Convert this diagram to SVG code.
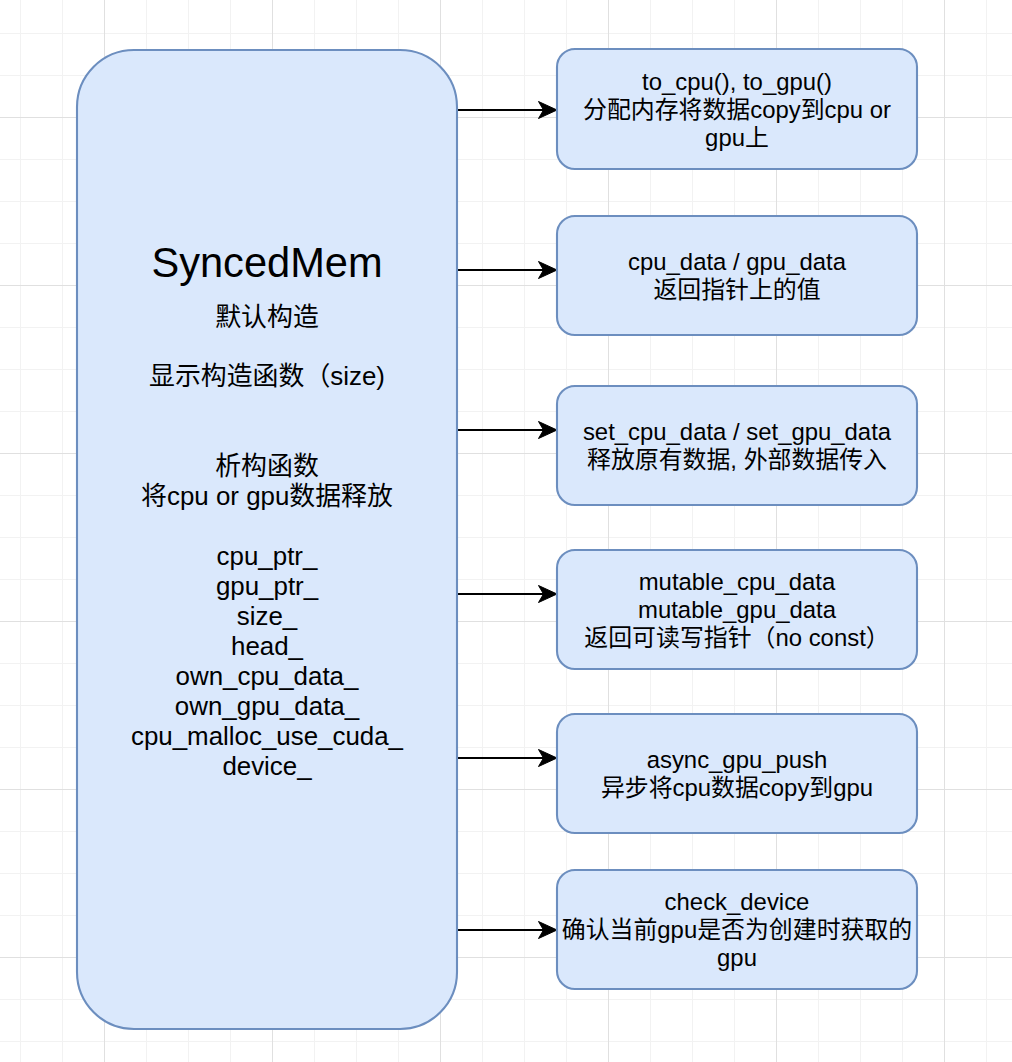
<svg xmlns="http://www.w3.org/2000/svg" width="1012" height="1062" viewBox="0 0 1012 1062">
  <style>
    .node { fill: #dae8fc; stroke: #6c8ebf; stroke-width: 2.1; }
    .t { font-family: "Liberation Sans", Arial, "Noto Sans CJK SC", sans-serif; fill: #000; text-anchor: middle; }
    .s { font-size: 23.9px; }
    .m { font-size: 25.9px; }
    .l { font-size: 41.6px; }
    .edge { stroke: #000; stroke-width: 2.1; fill: none; }
    .head { fill: #000; stroke: #000; stroke-width: 1; }
  </style>
  <defs>
    <pattern id="minor" x="20" y="33" width="42" height="42" patternUnits="userSpaceOnUse">
      <rect x="0" y="0" width="1" height="42" fill="#f2f2f2"/>
      <rect x="0" y="0" width="42" height="1" fill="#f2f2f2"/>
    </pattern>
    <pattern id="major" x="104" y="117" width="168" height="168" patternUnits="userSpaceOnUse">
      <rect x="0" y="0" width="1" height="168" fill="#e0e0e0"/>
      <rect x="0" y="0" width="168" height="1" fill="#e0e0e0"/>
    </pattern>
  </defs>
  <rect x="0" y="0" width="1012" height="1062" fill="#ffffff"/>
  <rect x="0" y="0" width="1012" height="1062" fill="url(#minor)"/>
  <rect x="0" y="0" width="1012" height="1062" fill="url(#major)"/>

  <g id="connectors">
    <g id="e1"><line class="edge" x1="457" y1="110" x2="545" y2="110"/><path class="head" d="M557,110 L538.5,101.5 L543.5,110 L538.5,118.5 Z"/></g>
    <g id="e2"><line class="edge" x1="457" y1="270" x2="545" y2="270"/><path class="head" d="M557,270 L538.5,261.5 L543.5,270 L538.5,278.5 Z"/></g>
    <g id="e3"><line class="edge" x1="457" y1="430" x2="545" y2="430"/><path class="head" d="M557,430 L538.5,421.5 L543.5,430 L538.5,438.5 Z"/></g>
    <g id="e4"><line class="edge" x1="457" y1="594" x2="545" y2="594"/><path class="head" d="M557,594 L538.5,585.5 L543.5,594 L538.5,602.5 Z"/></g>
    <g id="e5"><line class="edge" x1="457" y1="758" x2="545" y2="758"/><path class="head" d="M557,758 L538.5,749.5 L543.5,758 L538.5,766.5 Z"/></g>
    <g id="e6"><line class="edge" x1="457" y1="930" x2="545" y2="930"/><path class="head" d="M557,930 L538.5,921.5 L543.5,930 L538.5,938.5 Z"/></g>
  </g>

  <g id="syncedmem">
    <rect class="node" x="77" y="50" width="380" height="979" rx="57" ry="57"/>
    <text class="t l" x="267" y="277">SyncedMem</text>
    <text class="t m" x="267" y="326">默认构造</text>
    <text class="t m" x="267" y="385">显示构造函数（size)</text>
    <text class="t m" x="267" y="475">析构函数</text>
    <text class="t m" x="267" y="505">将cpu or gpu数据释放</text>
    <text class="t m" x="267" y="565">cpu_ptr_</text>
    <text class="t m" x="267" y="595">gpu_ptr_</text>
    <text class="t m" x="267" y="625">size_</text>
    <text class="t m" x="267" y="655">head_</text>
    <text class="t m" x="267" y="685">own_cpu_data_</text>
    <text class="t m" x="267" y="715">own_gpu_data_</text>
    <text class="t m" x="267" y="745">cpu_malloc_use_cuda_</text>
    <text class="t m" x="267" y="775">device_</text>
  </g>

  <g id="to_cpu">
    <rect class="node" x="557" y="49" width="360" height="120" rx="18" ry="18"/>
    <text class="t s" x="737" y="90">to_cpu(), to_gpu()</text>
    <text class="t s" x="737" y="118">分配内存将数据copy到cpu or</text>
    <text class="t s" x="737" y="146">gpu上</text>
  </g>

  <g id="cpu_data">
    <rect class="node" x="557" y="216" width="360" height="119" rx="18" ry="18"/>
    <text class="t s" x="737" y="270">cpu_data / gpu_data</text>
    <text class="t s" x="737" y="298">返回指针上的值</text>
  </g>

  <g id="set_cpu_data">
    <rect class="node" x="557" y="386" width="360" height="119" rx="18" ry="18"/>
    <text class="t s" x="737" y="440">set_cpu_data / set_gpu_data</text>
    <text class="t s" x="737" y="468">释放原有数据, 外部数据传入</text>
  </g>

  <g id="mutable_data">
    <rect class="node" x="557" y="550" width="360" height="119" rx="18" ry="18"/>
    <text class="t s" x="737" y="590">mutable_cpu_data</text>
    <text class="t s" x="737" y="618">mutable_gpu_data</text>
    <text class="t s" x="737" y="646">返回可读写指针（no const）</text>
  </g>

  <g id="async_gpu_push">
    <rect class="node" x="557" y="714" width="360" height="119" rx="18" ry="18"/>
    <text class="t s" x="737" y="768">async_gpu_push</text>
    <text class="t s" x="737" y="796">异步将cpu数据copy到gpu</text>
  </g>

  <g id="check_device">
    <rect class="node" x="557" y="870" width="360" height="119" rx="18" ry="18"/>
    <text class="t s" x="737" y="910">check_device</text>
    <text class="t s" x="737" y="938">确认当前gpu是否为创建时获取的</text>
    <text class="t s" x="737" y="966">gpu</text>
  </g>
</svg>
